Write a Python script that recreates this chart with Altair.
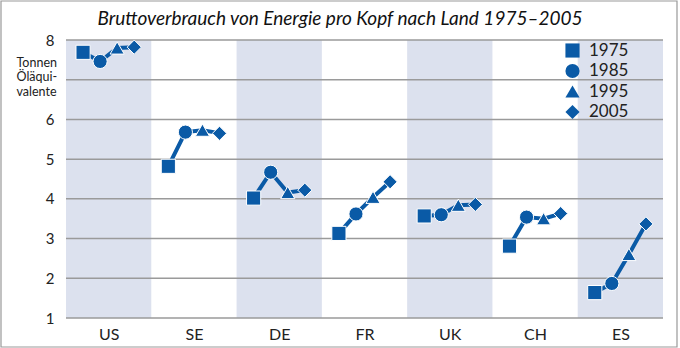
import json
import altair as alt
import pandas as pd

countries = ["US", "SE", "DE", "FR", "UK", "CH", "ES"]
years = ["1975", "1985", "1995", "2005"]
v1975 = [7.69, 4.82, 4.02, 3.13, 3.57, 2.81, 1.64]
v1985 = [7.46, 5.68, 4.67, 3.62, 3.60, 3.54, 1.87]
v1995 = [7.80, 5.73, 4.16, 4.04, 3.84, 3.50, 2.60]
v2005 = [7.82, 5.65, 4.22, 4.43, 3.86, 3.63, 3.37]
shapes = ["square", "circle", "triangle-up", "diamond"]
y_ticks = [1, 2, 3, 4, 5, 6, 7, 8]
y_labelled = [1, 2, 3, 4, 5, 6, 8]
title_text = "Bruttoverbrauch von Energie pro Kopf nach Land 1975–2005"
unit_text = ["Tonnen", "Öläqui-", "valente"]

BLUE = "#0a5aa6"
BAND = "#dce1ee"
GRID = "#9a9a9a"
FONT = "Lato"

W, H = 597, 278
PAD = {"left": 66, "top": 40, "right": 17, "bottom": 30}

series = [v1975, v1985, v1995, v2005]
rows = []
for ci, c in enumerate(countries):
    for yi, y in enumerate(years):
        rows.append({"country": c, "year": y, "value": series[yi][ci],
                     "pos": ci + 0.2 * (yi + 1)})
df = pd.DataFrame(rows)

bands = pd.DataFrame([{"x0": ci, "x1": ci + 1} for ci in range(len(countries)) if ci % 2 == 0])
grid = pd.DataFrame({"y": y_ticks})

xscale = alt.Scale(domain=[0, len(countries)], nice=False, zero=False)
yscale = alt.Scale(domain=[1, 8], nice=False, zero=False)

label_expr = json.dumps(countries) + "[round(datum.value - 0.5)]"

xaxis = alt.Axis(values=[i + 0.5 for i in range(len(countries))], labelExpr=label_expr,
                 ticks=False, domain=False, grid=False, title=None,
                 labelFont=FONT, labelFontSize=16, labelColor="#222", labelPadding=8)
yaxis = alt.Axis(values=y_labelled, ticks=False, domain=False, grid=False,
                 labelFont=FONT, labelFontSize=15, labelColor="#222", labelPadding=12,
                 title=unit_text, titleAngle=0, titleAlign="left", titleBaseline="top",
                 titleX=-50, titleY=16, titleFont=FONT, titleFontSize=12.5,
                 titleFontWeight="normal", titleColor="#222", titleLineHeight=14.5)

band_layer = alt.Chart(bands).mark_rect(color=BAND).encode(
    x=alt.X("x0:Q", scale=xscale, axis=xaxis),
    x2="x1:Q",
    y=alt.Y(datum=8, scale=yscale, axis=yaxis),
    y2=alt.datum(1),
)

grid_layer = alt.Chart(grid).mark_rule(color=GRID, strokeWidth=1.5).encode(
    y=alt.Y("y:Q", scale=yscale),
)

line_layer = alt.Chart(df).mark_line(color=BLUE, strokeWidth=4).encode(
    x=alt.X("pos:Q", scale=xscale),
    y=alt.Y("value:Q", scale=yscale),
    detail="country:N",
    order="pos:Q",
)

point_layer = alt.Chart(df).mark_point(filled=True, size=200, fill=BLUE, opacity=1,
                                       stroke="white", strokeWidth=1).encode(
    x=alt.X("pos:Q", scale=xscale),
    y=alt.Y("value:Q", scale=yscale),
    shape=alt.Shape("year:N", scale=alt.Scale(domain=years, range=shapes),
                    legend=alt.Legend(orient="none", legendX=498, legendY=2, title=None,
                                      padding=0, labelFont=FONT, labelFontSize=17,
                                      labelColor="#222", symbolSize=200,
                                      symbolFillColor=BLUE, symbolStrokeWidth=0,
                                      rowPadding=2.5, labelOffset=8)),
)

title_layer = alt.Chart(pd.DataFrame({"t": [title_text]})).mark_text(
    font=FONT, fontSize=19, fontStyle="italic", color="#111", align="center",
    baseline="alphabetic").encode(
    x=alt.value(274), y=alt.value(-15), text="t:N")

border_layer = alt.Chart(pd.DataFrame({"b": [0]})).mark_rect(
    fill=None, stroke="#999", strokeWidth=1.2, filled=False).encode(
    x=alt.value(-65), x2=alt.value(611), y=alt.value(-39), y2=alt.value(307))

chart = alt.layer(band_layer, grid_layer, line_layer, point_layer, title_layer, border_layer).properties(
    width=W, height=H,
    autosize=alt.AutoSizeParams(type="none"),
    padding=PAD,
    background="white",
).configure_view(stroke=None)

chart.save("out.html", embed_options={"renderer": "svg", "actions": False})
